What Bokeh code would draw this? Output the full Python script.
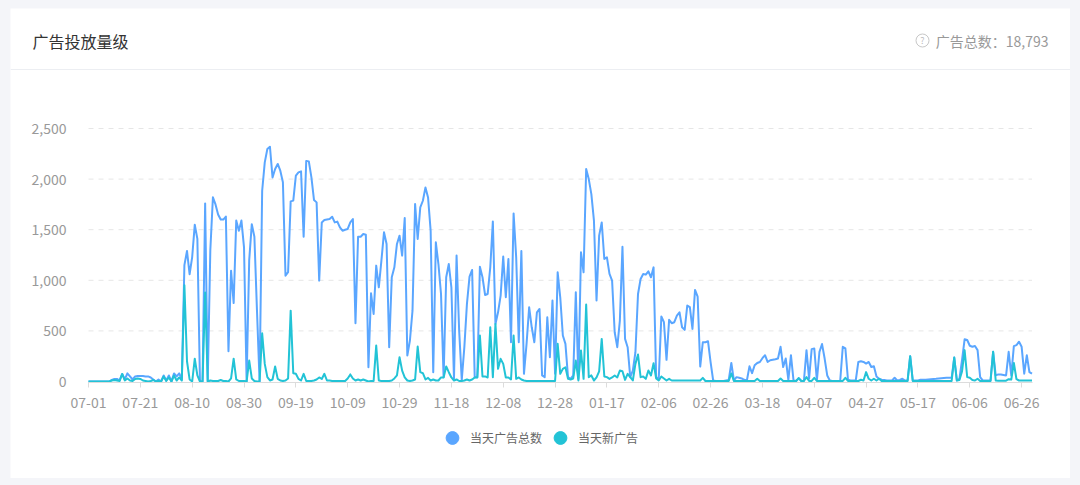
from bokeh.plotting import figure
from bokeh.models import Range1d, FixedTicker, NumeralTickFormatter, Legend, LegendItem, Label, Span
from bokeh.embed import file_html
from bokeh.resources import INLINE

FONT = "Noto Sans CJK SC"
BLUE = "#5AA6FF"
TEAL = "#22C3D6"

title_text = "广告投放量级"
summary_text = "广告总数：18,793"
series_names = ["当天广告总数", "当天新广告"]

tick_days = [0, 20, 40, 60, 80, 100, 120, 140, 160, 180, 200, 220, 240, 260, 280, 300, 320, 340, 360]
tick_labels = ["07-01", "07-21", "08-10", "08-30", "09-19", "10-09", "10-29", "11-18", "12-08",
               "12-28", "01-17", "02-06", "02-26", "03-18", "04-07", "04-27", "05-17", "06-06", "06-26"]
y_ticks = [0, 500, 1000, 1500, 2000, 2500]

# daily total ads (07-01 .. 06-30)
total_ads = [
    0, 0, 0, 0, 0, 0, 0, 0, 0, 15,
    25, 25, 10, 75, 20, 80, 50, 20, 50, 55,
    55, 55, 50, 50, 40, 20, 0, 20, 0, 60,
    10, 60, 0, 80, 50, 80, 20, 1150, 1290, 1060,
    1230, 1550, 1410, 0, 0, 1760, 0, 1300, 1820, 1750,
    1650, 1600, 1600, 1630, 300, 1095, 775, 1590, 1490, 1590,
    1325, 0, 1200, 1555, 1430, 700, 0, 1885, 2165, 2297,
    2320, 2017, 2100, 2150, 2083, 1968, 1046, 1080, 1780, 1787,
    2034, 2067, 2077, 1430, 2180, 2175, 2017, 1793, 1770, 997,
    1572, 1595, 1600, 1605, 1628, 1572, 1580, 1523, 1490, 1500,
    1507, 1572, 1605, 575, 1430, 1430, 1457, 1450, 141, 872,
    668, 1145, 931, 1194, 1474, 1359, 339, 1030, 1128, 1359,
    1441, 1244, 1615, 257, 405, 700, 1753, 1408, 1720, 1786,
    1918, 1819, 1490, 92, 1375, 1161, 865, 43, 1030, 1161,
    931, 26, 1244, 503, 16, 339, 767, 1036, 1102, 43,
    43, 1135, 1030, 855, 865, 1128, 1582, 569, 684, 849,
    1234, 832, 1211, 388, 1661, 1227, 388, 1290, 76, 372,
    734, 536, 388, 684, 717, 60, 43, 635, 240, 800,
    76, 1079, 832, 454, 372, 43, 26, 60, 882, 26,
    1277, 1079, 2099, 2000, 1852, 1589, 800, 1441, 1572, 1211,
    1227, 1063, 997, 487, 339, 602, 1332, 421, 339, 43,
    108, 289, 865, 1013, 1063, 1056, 1089, 1030, 1128, 43,
    26, 642, 586, 214, 609, 576, 586, 651, 684, 536,
    510, 750, 734, 520, 905, 839, 148, 388, 388, 398,
    191, 10, 5, 5, 5, 5, 10, 15, 183, 10,
    43, 37, 30, 17, 10, 150, 83, 160, 183, 193,
    230, 260, 193, 210, 215, 220, 227, 343, 143, 227,
    17, 260, 10, 5, 33, 5, 5, 310, 27, 320,
    327, 10, 293, 370, 227, 60, 10, 5, 5, 5,
    5, 343, 327, 17, 10, 10, 10, 193, 200, 193,
    177, 193, 143, 150, 50, 27, 17, 15, 10, 10,
    10, 37, 10, 15, 27, 10, 10, 250, 10, 10,
    10, 17, 17, 17, 20, 23, 25, 27, 30, 33,
    35, 37, 37, 37, 237, 10, 27, 210, 417, 410,
    353, 343, 350, 310, 43, 10, 10, 10, 10, 293,
    60, 70, 70, 65, 60, 293, 60, 350, 360, 393,
    343, 77, 260, 93, 77,
]

# daily new ads
new_ads = [
    0, 0, 0, 0, 0, 0, 0, 0, 0, 10,
    15, 10, 5, 75, 10, 30, 10, 5, 25, 30,
    25, 10, 5, 0, 5, 15, 0, 5, 0, 50,
    5, 40, 0, 60, 10, 40, 10, 950, 200, 20,
    0, 225, 60, 0, 0, 880, 0, 10, 5, 5,
    5, 15, 5, 5, 0, 30, 225, 20, 5, 5,
    5, 0, 207, 30, 5, 0, 0, 477, 174, 43,
    10, 20, 148, 26, 10, 5, 10, 30, 700, 82,
    76, 26, 10, 76, 5, 5, 5, 10, 20, 40,
    25, 76, 10, 10, 5, 5, 5, 5, 5, 5,
    30, 70, 30, 10, 20, 10, 20, 10, 0, 5,
    5, 355, 10, 5, 5, 5, 5, 10, 30, 60,
    240, 108, 40, 10, 5, 10, 20, 345, 92, 82,
    20, 36, 10, 20, 10, 10, 40, 40, 148, 92,
    40, 10, 20, 5, 5, 10, 20, 10, 20, 40,
    40, 454, 50, 50, 40, 536, 43, 569, 125, 224,
    174, 40, 40, 20, 454, 26, 40, 20, 10, 5,
    5, 5, 5, 5, 5, 5, 5, 5, 5, 5,
    5, 372, 76, 125, 141, 26, 20, 30, 207, 10,
    306, 26, 760, 43, 60, 10, 40, 100, 421, 50,
    43, 26, 40, 60, 40, 108, 102, 16, 76, 43,
    10, 174, 266, 43, 50, 26, 108, 60, 181, 30,
    10, 50, 30, 10, 26, 10, 10, 10, 10, 10,
    10, 10, 10, 10, 10, 10, 10, 36, 5, 5,
    5, 5, 5, 5, 5, 5, 5, 5, 80, 5,
    5, 5, 5, 5, 5, 5, 5, 5, 27, 5,
    5, 5, 5, 5, 5, 5, 5, 30, 5, 5,
    5, 5, 5, 5, 33, 5, 5, 43, 5, 5,
    37, 5, 5, 5, 5, 5, 5, 5, 5, 5,
    5, 5, 37, 5, 5, 5, 5, 5, 17, 10,
    93, 27, 10, 27, 10, 27, 5, 5, 5, 5,
    5, 5, 5, 5, 5, 5, 5, 250, 5, 5,
    5, 5, 5, 5, 5, 5, 5, 5, 5, 5,
    5, 5, 5, 5, 237, 10, 15, 100, 310, 43,
    37, 15, 10, 27, 5, 5, 5, 5, 5, 293,
    10, 8, 8, 8, 8, 23, 20, 183, 23, 10,
    10, 10, 10, 10, 10,
]

days_total = list(range(len(total_ads)))
days_new = list(range(len(new_ads)))
n_last = len(total_ads) - 1

# ---------------- layout (page pixels) ----------------
W, H = 1060, 470            # card size
CARD_L, CARD_T = 10, 8      # card position on page
PLOT_L, PLOT_R = 88, 1031.5 # page x of first / last day
PLOT_Y0, PLOT_YMAX = 381, 128  # page y of value 0 / 2500

px_per_day = (PLOT_R - PLOT_L) / n_last
px_per_val = (PLOT_Y0 - PLOT_YMAX) / y_ticks[-1]
x_start = -(PLOT_L - CARD_L) / px_per_day
x_end = n_last + (CARD_L + W - PLOT_R) / px_per_day
y_start = -(CARD_T + H - PLOT_Y0) / px_per_val
y_end = y_ticks[-1] + (PLOT_YMAX - CARD_T) / px_per_val


def sx(page_x):
    return page_x - CARD_L


def sy(page_y):
    return CARD_T + H - page_y


p = figure(width=W, height=H, output_backend="svg", toolbar_location=None,
           x_range=Range1d(x_start, x_end), y_range=Range1d(y_start, y_end),
           min_border_left=0, min_border_right=0, min_border_top=0, min_border_bottom=0)
p.outline_line_color = None
p.background_fill_color = "white"
p.border_fill_color = "white"
p.xgrid.visible = False
p.ygrid.visible = False

# dashed horizontal grid lines over the data span
grid_vals = y_ticks[1:]
p.segment(x0=[days_total[0]] * len(grid_vals), x1=[days_total[-1]] * len(grid_vals),
          y0=grid_vals, y1=grid_vals, line_color="#e6e6e6", line_width=1, line_dash="5 5")

p.line(days_total, total_ads, line_color=BLUE, line_width=2, line_join="round")
p.line(days_new, new_ads, line_color=TEAL, line_width=2, line_join="round")

xa = p.xaxis[0]
xa.fixed_location = -1.2 / px_per_val
xa.bounds = (days_total[0], days_total[-1])
xa.ticker = FixedTicker(ticks=tick_days)
xa.major_label_overrides = {d: lab for d, lab in zip(tick_days, tick_labels)}
xa.axis_line_color = "#dcdcdc"
xa.major_tick_line_color = "#dcdcdc"
xa.major_tick_out = 5
xa.major_tick_in = 0
xa.minor_tick_line_color = None
xa.major_label_text_color = "#999999"
xa.major_label_text_font = FONT
xa.major_label_text_font_size = "14px"
xa.major_label_standoff = 9

ya = p.yaxis[0]
ya.fixed_location = days_total[0]
ya.bounds = (y_ticks[0], y_ticks[-1])
ya.ticker = FixedTicker(ticks=y_ticks)
ya.formatter = NumeralTickFormatter(format="0,0")
ya.axis_line_color = None
ya.major_tick_line_color = None
ya.minor_tick_line_color = None
ya.major_label_text_color = "#999999"
ya.major_label_text_font = FONT
ya.major_label_text_font_size = "14px"
ya.major_label_standoff = 16

# header
p.add_layout(Label(x=sx(32), y=sy(40), x_units="screen", y_units="screen", text=title_text,
                   text_font=FONT, text_font_size="16px", text_color="#333333",
                   text_baseline="middle", text_align="left"))
p.add_layout(Label(x=sx(1048), y=sy(40), x_units="screen", y_units="screen", text=summary_text,
                   text_font=FONT, text_font_size="14px", text_color="#999999",
                   text_baseline="middle", text_align="right"))
icon_x = x_start + sx(922) / px_per_day
icon_y = y_start + sy(40) / px_per_val
p.scatter(x=[icon_x], y=[icon_y], marker="circle", size=13, fill_color=None,
          line_color="#c8c8c8", line_width=1)
p.add_layout(Label(x=sx(922), y=sy(40), x_units="screen", y_units="screen", text="?",
                   text_font=FONT, text_font_size="9px", text_color="#bdbdbd",
                   text_baseline="middle", text_align="center"))
p.add_layout(Span(location=y_start + sy(69) / px_per_val, dimension="width",
                  line_color="#eceef2", line_width=1))

# legend (proxy markers that are not drawn in the plot: NaN position)
nan = float("nan")
r_total = p.scatter(x=[nan], y=[nan], marker="circle", size=13, fill_color=BLUE, line_color=BLUE)
r_new = p.scatter(x=[nan], y=[nan], marker="circle", size=13, fill_color=TEAL, line_color=TEAL)
legend = Legend(items=[LegendItem(label=series_names[0], renderers=[r_total], index=0),
                       LegendItem(label=series_names[1], renderers=[r_new], index=0)],
                location=(sx(436), sy(454.5)), orientation="horizontal",
                glyph_width=32, glyph_height=35, label_standoff=2, spacing=2,
                padding=0, margin=0, border_line_color=None, background_fill_alpha=0,
                label_text_font=FONT, label_text_font_size="12px", label_text_color="#666666")
p.add_layout(legend, "center")

html = file_html(p, INLINE)
css = ("<style>html, body { margin: 0 !important; padding: 0 !important; "
       "background-color: #f4f5f9 !important; } "
       "body { padding: 8px 10px !important; }</style>")
html = html.replace("</head>", css + "</head>", 1)
open("out.html", "w").write(html)
